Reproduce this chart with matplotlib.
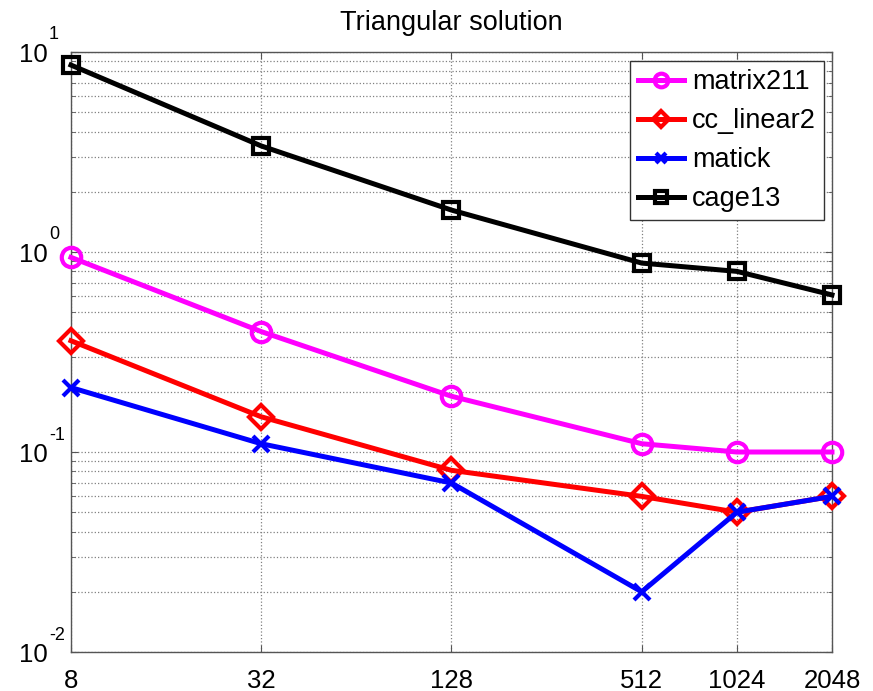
import matplotlib
matplotlib.use("Agg")
import matplotlib.pyplot as plt
from matplotlib.ticker import LogLocator, FixedLocator, FixedFormatter, NullFormatter
from matplotlib.transforms import blended_transform_factory, offset_copy

plt.rcParams['font.family'] = ['Liberation Sans', 'DejaVu Sans']

x_values = [8, 32, 128, 512, 1024, 2048]
x_labels = ['8', '32', '128', '512', '1024', '2048']
y_ticks = [1e-2, 1e-1, 1e0, 1e1]
y_exponents = ['-2', '-1', '0', '1']

series_names = ['matrix211', 'cc_linear2', 'matick', 'cage13']
matrix211 = [0.94, 0.40, 0.19, 0.11, 0.10, 0.10]
cc_linear2 = [0.36, 0.15, 0.081, 0.060, 0.050, 0.060]
matick = [0.21, 0.11, 0.070, 0.020, 0.050, 0.060]
cage13 = [8.6, 3.39, 1.62, 0.88, 0.80, 0.61]

colors = ['#ff00ff', '#ff0000', '#0000ff', '#000000']
markers = ['o', 'D', 'x', 's']
msizes = [14, 12, 11, 12]

fig = plt.figure(figsize=(8.73, 6.91), dpi=100)
ax = fig.add_axes([0.0813, 0.0564, 0.953 - 0.0813, 0.9248 - 0.0564])

for name, vals, c, m, ms in zip(series_names, [matrix211, cc_linear2, matick, cage13],
                                colors, markers, msizes):
    ax.plot(x_values, vals, color=c, marker=m, markersize=ms,
            markerfacecolor='none', markeredgewidth=3, linewidth=3.6, label=name,
            clip_on=False, zorder=3)

ax.set_xscale('log', base=2)
ax.set_yscale('log')
ax.set_xlim(8, 2048)
ax.set_ylim(1e-2, 1e1)

ax.xaxis.set_major_locator(FixedLocator(x_values))
ax.xaxis.set_major_formatter(FixedFormatter(x_labels))
ax.xaxis.set_minor_locator(FixedLocator([]))
ax.yaxis.set_major_locator(FixedLocator(y_ticks))
ax.yaxis.set_major_formatter(NullFormatter())
ax.yaxis.set_minor_locator(LogLocator(base=10, subs=range(2, 10), numticks=20))
ax.yaxis.set_minor_formatter(NullFormatter())

ax.grid(True, which='major', linestyle=':', color='#808080', linewidth=0.9)
ax.grid(True, which='minor', axis='y', linestyle=':', color='#808080', linewidth=0.9)
ax.set_axisbelow(True)

ax.tick_params(axis='both', which='both', direction='in', top=True, right=True,
               labelsize=18.5, color='#555555')
ax.tick_params(axis='both', which='major', length=5)
ax.tick_params(axis='y', which='minor', length=3)
ax.tick_params(axis='x', pad=12)
for s in ax.spines.values():
    s.set_color('#555555')
    s.set_linewidth(1.0)

# y tick labels in MATLAB style: "10" with a raised exponent
trans = blended_transform_factory(ax.transAxes, ax.transData)
for v, e in zip(y_ticks, y_exponents):
    ax.text(0, v, '10', transform=offset_copy(trans, fig=fig, x=-23, y=-3, units='dots'),
            ha='right', va='center', fontsize=18.5, clip_on=False)
    ax.text(0, v, e, transform=offset_copy(trans, fig=fig, x=-22, y=17, units='dots'),
            ha='left', va='center', fontsize=13, clip_on=False)

ax.set_title('Triangular solution', fontsize=19.5, pad=16)

leg = ax.legend(loc='upper right', bbox_to_anchor=(0.9895, 0.985), fontsize=19.5,
                frameon=True, fancybox=False, edgecolor='#333333', framealpha=1,
                handlelength=1.7, handletextpad=0.3, borderpad=0.3, labelspacing=0.48,
                markerscale=0.7, borderaxespad=0.0)
leg.get_frame().set_linewidth(1.0)

fig.savefig('out.png', dpi=100)
